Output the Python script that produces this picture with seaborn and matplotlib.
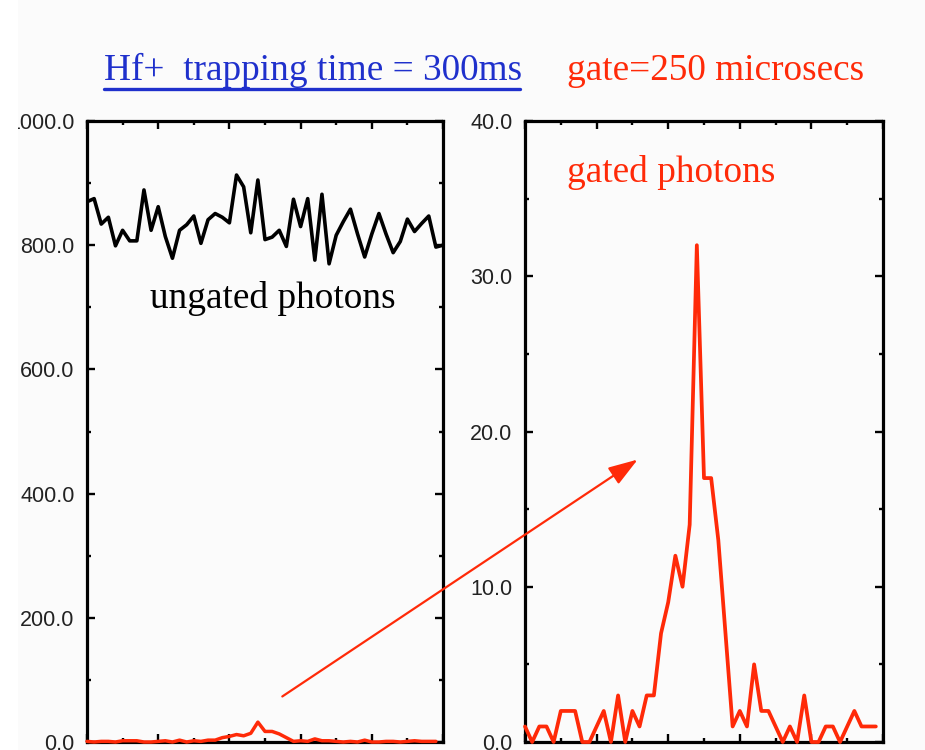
import numpy as np
import pandas as pd
import matplotlib
matplotlib.use("Agg")
import matplotlib.pyplot as plt
from matplotlib.lines import Line2D
from matplotlib.patches import FancyArrowPatch, Rectangle
from matplotlib.ticker import MultipleLocator, FormatStrFormatter
import seaborn as sns

# ---------------- data ----------------
ungated = [870, 875, 834, 845, 799, 824, 807, 807, 889, 824,
           862, 814, 779, 824, 833, 847, 803, 841, 851, 845,
           836, 913, 894, 820, 905, 809, 813, 824, 798, 874,
           830, 875, 776, 882, 770, 816, 838, 858, 818, 781,
           818, 851, 818, 788, 806, 842, 822, 835, 847, 797, 800]
gated = [1, 0, 1, 1, 0, 2, 2, 2, 0, 0,
         1, 2, 0, 3, 0, 2, 1, 3, 3, 7,
         9, 12, 10, 14, 32, 17, 17, 13, 7, 1,
         2, 1, 5, 2, 2, 1, 0, 1, 0, 3,
         0, 0, 1, 1, 0, 1, 2, 1, 1, 1]
ungated_bin = list(range(len(ungated)))
gated_bin = list(range(len(gated)))

title_left = "Hf+  trapping time = 300ms"
title_right = "gate=250 microsecs"
label_ungated = "ungated photons"
label_gated = "gated photons"

df_u = pd.DataFrame({"bin": ungated_bin, "counts": ungated})
df_g = pd.DataFrame({"bin": gated_bin, "counts": gated})

# ---------------- style ----------------
sns.set_theme(style="white")
plt.rcParams["font.family"] = ["Liberation Sans", "DejaVu Sans"]

RED = "#ff2a08"
BLUE = "#1f30cc"
BG = "#fbfbfb"
W, H = 925, 750

fig = plt.figure(figsize=(9.25, 7.5), dpi=100, facecolor=BG)
ax1 = fig.add_axes([87 / W, 8 / H, 356 / W, 621 / H])
ax2 = fig.add_axes([525 / W, 8 / H, 358 / W, 621 / H])

for ax in (ax1, ax2):
    ax.set_facecolor(BG)

sns.lineplot(data=df_u, x="bin", y="counts", ax=ax1, color="black", lw=2.6, zorder=3)
sns.lineplot(data=df_g, x="bin", y="counts", ax=ax1, color=RED, lw=2.5, zorder=4, clip_on=False)
sns.lineplot(data=df_g, x="bin", y="counts", ax=ax2, color=RED, lw=2.7, zorder=4, clip_on=False)

ax1.set_ylim(0, 1000)
ax2.set_ylim(0, 40)
for ax in (ax1, ax2):
    ax.set_xlim(0, 50)
    ax.set_xlabel("")
    ax.set_ylabel("")
    ax.xaxis.set_major_locator(MultipleLocator(10))
    ax.xaxis.set_minor_locator(MultipleLocator(5))
    ax.yaxis.set_major_formatter(FormatStrFormatter("%.1f"))
    ax.set_xticklabels([])
    ax.tick_params(which="both", direction="in", top=True, right=True,
                   bottom=True, left=True, color="black", width=1.7)
    ax.tick_params(which="major", length=6)
    ax.tick_params(which="minor", length=3)
    ax.tick_params(axis="y", which="major", labelsize=15.5, labelcolor="#222222", pad=9)
    for s in ax.spines.values():
        s.set_color("black")
        s.set_linewidth(2.3)
        s.set_visible(True)

ax1.yaxis.set_major_locator(MultipleLocator(200))
ax1.yaxis.set_minor_locator(MultipleLocator(100))
ax2.yaxis.set_major_locator(MultipleLocator(10))
ax2.yaxis.set_minor_locator(MultipleLocator(5))

serif = ["Liberation Serif", "DejaVu Serif"]
ax1.text((150 - 87) / 356, (742 - 308) / 621, label_ungated, transform=ax1.transAxes,
         fontsize=26.8, family=serif, color="black", va="baseline", ha="left")
ax2.text((567 - 525) / 358, (742 - 182) / 621, label_gated, transform=ax2.transAxes,
         fontsize=26.8, family=serif, color=RED, va="baseline", ha="left")

fig.text(104 / W, 1 - 80 / H, title_left, fontsize=26.8, family=serif, color=BLUE,
         va="baseline", ha="left")
fig.add_artist(Line2D([104 / W, 520 / W], [1 - 88.5 / H] * 2, color=BLUE, lw=2.4,
                      transform=fig.transFigure))
fig.text(567 / W, 1 - 80 / H, title_right, fontsize=26.8, family=serif, color=RED,
         va="baseline", ha="left")

arrow = FancyArrowPatch((280 / W, 1 - 698 / H), (640 / W, 1 - 458 / H),
                        transform=fig.transFigure,
                        arrowstyle="-|>,head_length=18,head_width=6",
                        mutation_scale=1, color=RED, lw=1.6, zorder=10)
fig.add_artist(arrow)

# cropped white margin at the left edge, as in the reference scan
fig.add_artist(Rectangle((0, 0), 18 / W, 1, transform=fig.transFigure,
                         facecolor="white", edgecolor="none", zorder=20))

fig.savefig("out.png", dpi=100, facecolor=BG)
